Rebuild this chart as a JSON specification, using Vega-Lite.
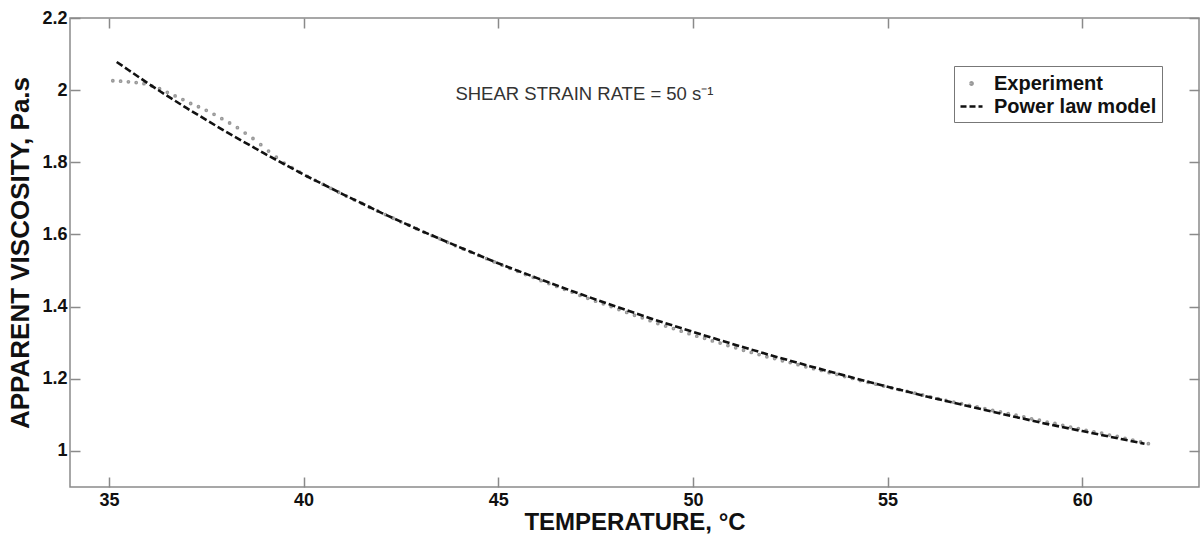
{
  "$schema": "https://vega.github.io/schema/vega-lite/v6.json",
  "width": 1129,
  "height": 469,
  "autosize": {"type": "none"},
  "padding": {"left": 70, "top": 18, "right": 1, "bottom": 48},
  "background": "white",
  "datasets": {
    "exp": [
      {"T": 35.1, "v": 2.026}, {"T": 35.3, "v": 2.025}, {"T": 35.5, "v": 2.023}, {"T": 35.7, "v": 2.021}, {"T": 35.9, "v": 2.018},
      {"T": 36.1, "v": 2.012}, {"T": 36.3, "v": 2.004}, {"T": 36.5, "v": 1.994}, {"T": 36.7, "v": 1.984}, {"T": 36.9, "v": 1.974},
      {"T": 37.1, "v": 1.963}, {"T": 37.3, "v": 1.954}, {"T": 37.5, "v": 1.944}, {"T": 37.7, "v": 1.933}, {"T": 37.9, "v": 1.921},
      {"T": 38.1, "v": 1.909}, {"T": 38.3, "v": 1.896}, {"T": 38.5, "v": 1.881}, {"T": 38.7, "v": 1.866}, {"T": 38.9, "v": 1.849},
      {"T": 39.1, "v": 1.831}, {"T": 39.3, "v": 1.814}, {"T": 39.5, "v": 1.798}, {"T": 39.7, "v": 1.785}, {"T": 39.9, "v": 1.773},
      {"T": 40.1, "v": 1.761}, {"T": 40.3, "v": 1.750}, {"T": 40.5, "v": 1.739}, {"T": 40.7, "v": 1.728}, {"T": 40.9, "v": 1.717},
      {"T": 41.1, "v": 1.706}, {"T": 41.3, "v": 1.696}, {"T": 41.5, "v": 1.686}, {"T": 41.7, "v": 1.675}, {"T": 41.9, "v": 1.665},
      {"T": 42.1, "v": 1.655}, {"T": 42.3, "v": 1.645}, {"T": 42.5, "v": 1.635}, {"T": 42.7, "v": 1.626}, {"T": 42.9, "v": 1.616},
      {"T": 43.1, "v": 1.606}, {"T": 43.3, "v": 1.597}, {"T": 43.5, "v": 1.588}, {"T": 43.7, "v": 1.578}, {"T": 43.9, "v": 1.569},
      {"T": 44.1, "v": 1.560}, {"T": 44.3, "v": 1.551}, {"T": 44.5, "v": 1.542}, {"T": 44.7, "v": 1.533}, {"T": 44.9, "v": 1.524},
      {"T": 45.1, "v": 1.515}, {"T": 45.3, "v": 1.506}, {"T": 45.5, "v": 1.498}, {"T": 45.7, "v": 1.489}, {"T": 45.9, "v": 1.481},
      {"T": 46.1, "v": 1.472}, {"T": 46.3, "v": 1.464}, {"T": 46.5, "v": 1.456}, {"T": 46.7, "v": 1.448}, {"T": 46.9, "v": 1.440},
      {"T": 47.1, "v": 1.431}, {"T": 47.3, "v": 1.423}, {"T": 47.5, "v": 1.415}, {"T": 47.7, "v": 1.408}, {"T": 47.9, "v": 1.400},
      {"T": 48.1, "v": 1.392}, {"T": 48.3, "v": 1.384}, {"T": 48.5, "v": 1.376}, {"T": 48.7, "v": 1.369}, {"T": 48.9, "v": 1.361},
      {"T": 49.1, "v": 1.353}, {"T": 49.3, "v": 1.346}, {"T": 49.5, "v": 1.339}, {"T": 49.7, "v": 1.332}, {"T": 49.9, "v": 1.325},
      {"T": 50.1, "v": 1.318}, {"T": 50.3, "v": 1.312}, {"T": 50.5, "v": 1.305}, {"T": 50.7, "v": 1.299}, {"T": 50.9, "v": 1.292},
      {"T": 51.1, "v": 1.286}, {"T": 51.3, "v": 1.279}, {"T": 51.5, "v": 1.273}, {"T": 51.7, "v": 1.267}, {"T": 51.9, "v": 1.261},
      {"T": 52.1, "v": 1.256}, {"T": 52.3, "v": 1.250}, {"T": 52.5, "v": 1.245}, {"T": 52.7, "v": 1.239}, {"T": 52.9, "v": 1.233},
      {"T": 53.1, "v": 1.228}, {"T": 53.3, "v": 1.223}, {"T": 53.5, "v": 1.217}, {"T": 53.7, "v": 1.212}, {"T": 53.9, "v": 1.206},
      {"T": 54.1, "v": 1.201}, {"T": 54.3, "v": 1.195}, {"T": 54.5, "v": 1.190}, {"T": 54.7, "v": 1.185}, {"T": 54.9, "v": 1.180},
      {"T": 55.1, "v": 1.175}, {"T": 55.3, "v": 1.170}, {"T": 55.5, "v": 1.165}, {"T": 55.7, "v": 1.160}, {"T": 55.9, "v": 1.155},
      {"T": 56.1, "v": 1.150}, {"T": 56.3, "v": 1.145}, {"T": 56.5, "v": 1.140}, {"T": 56.7, "v": 1.135}, {"T": 56.9, "v": 1.131},
      {"T": 57.1, "v": 1.126}, {"T": 57.3, "v": 1.122}, {"T": 57.5, "v": 1.117}, {"T": 57.7, "v": 1.112}, {"T": 57.9, "v": 1.108},
      {"T": 58.1, "v": 1.103}, {"T": 58.3, "v": 1.099}, {"T": 58.5, "v": 1.094}, {"T": 58.7, "v": 1.089}, {"T": 58.9, "v": 1.085},
      {"T": 59.1, "v": 1.080}, {"T": 59.3, "v": 1.076}, {"T": 59.5, "v": 1.071}, {"T": 59.7, "v": 1.066}, {"T": 59.9, "v": 1.062},
      {"T": 60.1, "v": 1.057}, {"T": 60.3, "v": 1.053}, {"T": 60.5, "v": 1.049}, {"T": 60.7, "v": 1.044}, {"T": 60.9, "v": 1.040},
      {"T": 61.1, "v": 1.035}, {"T": 61.3, "v": 1.030}, {"T": 61.5, "v": 1.025}, {"T": 61.7, "v": 1.020}
    ],
    "model": [
      {"T": 35.2, "v": 2.078}, {"T": 35.5, "v": 2.056}, {"T": 36, "v": 2.019}, {"T": 36.5, "v": 1.984}, {"T": 37, "v": 1.950},
      {"T": 38, "v": 1.885}, {"T": 39, "v": 1.824}, {"T": 40, "v": 1.766}, {"T": 41, "v": 1.712}, {"T": 42, "v": 1.660},
      {"T": 43, "v": 1.611}, {"T": 44, "v": 1.565}, {"T": 45, "v": 1.520}, {"T": 46, "v": 1.479}, {"T": 47, "v": 1.439},
      {"T": 48, "v": 1.401}, {"T": 49, "v": 1.364}, {"T": 50, "v": 1.330}, {"T": 51, "v": 1.297}, {"T": 52, "v": 1.265},
      {"T": 53, "v": 1.235}, {"T": 54, "v": 1.206}, {"T": 55, "v": 1.178}, {"T": 56, "v": 1.151}, {"T": 57, "v": 1.126},
      {"T": 58, "v": 1.101}, {"T": 59, "v": 1.077}, {"T": 60, "v": 1.055}, {"T": 61, "v": 1.033}, {"T": 61.6, "v": 1.020}
    ],
    "note": [
      {"T": 43.9, "v": 1.99, "label": "SHEAR STRAIN RATE = 50 s⁻¹"}
    ]
  },
  "resolve": {"axis": {"x": "independent", "y": "independent"}},
  "layer": [
    {
      "data": {"name": "exp"},
      "mark": {"type": "point", "filled": false, "size": 484, "strokeWidth": 1.6, "opacity": 1},
      "encoding": {
        "x": {
          "field": "T", "type": "quantitative",
          "scale": {"domain": [34, 63], "nice": false, "zero": false},
          "axis": {
            "orient": "bottom", "values": [35, 40, 45, 50, 55, 60],
            "title": "TEMPERATURE, °C", "titleFontSize": 24, "titlePadding": 1,
            "tickSize": -10, "labelPadding": 14
          }
        },
        "y": {
          "field": "v", "type": "quantitative",
          "scale": {"domain": [0.9, 2.2], "nice": false, "zero": false},
          "axis": {
            "orient": "left", "values": [1, 1.2, 1.4, 1.6, 1.8, 2, 2.2], "format": ".2~f",
            "title": "APPARENT VISCOSITY, Pa.s", "titleFontSize": 26, "titlePadding": 8,
            "tickSize": -10, "labelPadding": 13
          }
        },
        "color": {
          "datum": "Experiment",
          "type": "nominal",
          "scale": {"domain": ["Experiment", "Power law model"], "range": ["#999999", "#111111"]},
          "legend": {
            "title": null, "orient": "none", "legendX": 884, "legendY": 48,
            "strokeColor": "#777777", "fillColor": "white", "padding": 5,
            "symbolSize": 484, "symbolStrokeWidth": 2.6, "symbolDash": [6, 3],
            "labelOffset": 10, "rowPadding": 0, "labelLimit": 0,
            "labelFont": "Liberation Sans", "labelFontWeight": "bold", "labelFontSize": 20, "labelColor": "#111111"
          }
        },
        "shape": {
          "datum": "Experiment",
          "type": "nominal",
          "scale": {"domain": ["Experiment", "Power law model"], "range": ["M-0.1,0A0.1,0.1,0,1,0,0.1,0A0.1,0.1,0,1,0,-0.1,0Z", "M-1,0L1,0"]},
          "legend": {
            "title": null, "orient": "none", "legendX": 884, "legendY": 48,
            "strokeColor": "#777777", "fillColor": "white", "padding": 5,
            "symbolSize": 484, "symbolStrokeWidth": 2.6, "symbolDash": [6, 3],
            "labelOffset": 10, "rowPadding": 0, "labelLimit": 0,
            "labelFont": "Liberation Sans", "labelFontWeight": "bold", "labelFontSize": 20, "labelColor": "#111111"
          }
        }
      }
    },
    {
      "data": {"name": "model"},
      "mark": {"type": "line", "color": "#111111", "strokeDash": [7, 3], "strokeWidth": 2.6},
      "encoding": {
        "x": {"field": "T", "type": "quantitative", "axis": null},
        "y": {"field": "v", "type": "quantitative", "axis": null}
      }
    },
    {
      "data": {"name": "note"},
      "mark": {"type": "text", "align": "left", "baseline": "middle", "font": "Liberation Sans", "fontSize": 18.5, "color": "#333333"},
      "encoding": {
        "x": {"field": "T", "type": "quantitative", "axis": null},
        "y": {"field": "v", "type": "quantitative", "axis": null},
        "text": {"field": "label"}
      }
    },
    {
      "data": {"name": "model"},
      "mark": {"type": "point", "opacity": 0},
      "encoding": {
        "x": {"field": "T", "type": "quantitative", "axis": {"orient": "top", "values": [35, 40, 45, 50, 55, 60], "labels": false, "title": null, "tickSize": -10}},
        "y": {"field": "v", "type": "quantitative", "axis": {"orient": "right", "values": [1, 1.2, 1.4, 1.6, 1.8, 2, 2.2], "labels": false, "title": null, "tickSize": -10}}
      }
    }
  ],
  "config": {
    "view": {"stroke": "#8a8a8a", "strokeWidth": 1.5},
    "axis": {
      "grid": false, "domain": false,
      "labelFont": "Liberation Sans", "labelFontWeight": "bold", "labelFontSize": 18, "labelColor": "#111111",
      "titleFont": "Liberation Sans", "titleFontWeight": "bold", "titleColor": "#111111",
      "tickColor": "#8a8a8a", "tickWidth": 1.5
    }
  }
}
